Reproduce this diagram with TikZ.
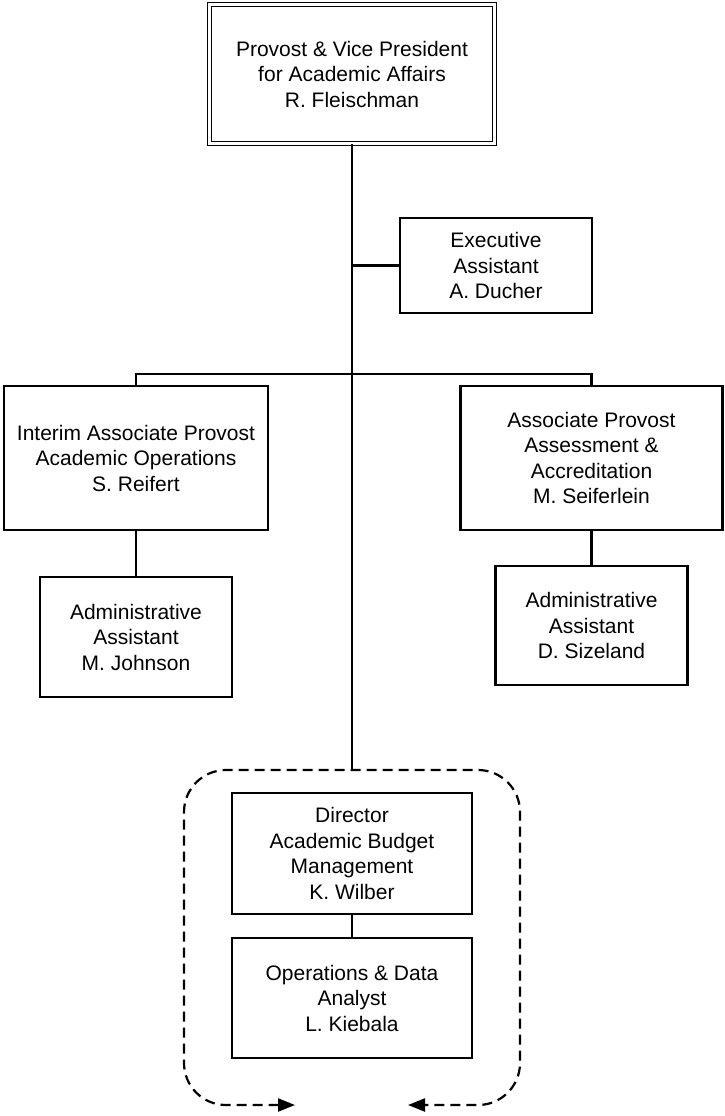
\documentclass[tikz,border=0pt]{standalone}
\usepackage{fontspec}
\setmainfont{Liberation Sans}
\usepackage{tikz}
\usetikzlibrary{arrows.meta}
\usetikzlibrary{positioning}

\tikzset{
  post/.style={rectangle,draw=black,line width=2.2pt,align=center,inner sep=0pt,
    font=\fontsize{21}{25.5}\selectfont},
  link/.style={line width=2.2pt},
  group/.style={line width=2.2pt,dash pattern=on 10pt off 6pt,rounded corners=42pt},
}

\begin{document}
\begin{tikzpicture}[x=1pt,y=-1pt]
        \useasboundingbox (0,0) rectangle (724,1116);

        % top
        \node[post,line width=1.3pt,double,double distance=2.6pt,minimum width=284.5pt,minimum height=139.5pt] (provost) at (352,74)
            {Provost \& Vice President\\for Academic Affairs\\R. Fleischman};
        \node[post,minimum width=192pt,minimum height=95pt] (exec) at (496,265.5)
            {Executive\\Assistant\\A. Ducher};

        % associate provosts
        \node[post,minimum width=264pt,minimum height=144pt] (interim) at (136,458)
            {Interim Associate Provost\\Academic Operations\\S. Reifert};
        \node[post,minimum width=262pt,minimum height=144pt] (assoc) at (591.5,458)
            {Associate Provost\\Assessment \&\\Accreditation\\M. Seiferlein};
        \node[post,minimum width=192pt,minimum height=120pt] (johnson) at (136,637)
            {Administrative\\Assistant\\M. Johnson};
        \node[post,minimum width=192pt,minimum height=119pt] (sizeland) at (591.5,625.5)
            {Administrative\\Assistant\\D. Sizeland};

        % budget group
        \node[post,minimum width=240pt,minimum height=121pt] (director) at (352,853.5)
            {Director\\Academic Budget\\Management\\K. Wilber};
        \node[post,minimum width=240pt,minimum height=120pt] (analyst) at (352,998)
            {Operations \& Data\\Analyst\\L. Kiebala};

        \coordinate (bar) at (352,374);
        \coordinate (grp) at (352,770);
        \coordinate (grpL) at (295,1105);
        \coordinate (grpR) at (408,1105);

        \draw[link] (provost.south) -- (grp);
        \draw[link] (exec.west) -- (exec.west -| provost.south);
        \draw[link] (interim.north) -- (interim.north |- bar) -- (assoc.north |- bar) -- (assoc.north);
        \draw[link] (interim.south) -- (johnson.north);
        \draw[link] (assoc.south) -- (sizeland.north);
        \draw[link] (director.south) -- (analyst.north);

        \draw[group,{Triangle[length=17pt,width=13pt]}-{Triangle[length=17pt,width=13pt]}]
            (grpL) -- (184,1105) -- (184,770) -- (520,770) -- (520,1105) -- (grpR);

    \end{tikzpicture}
\end{document}
